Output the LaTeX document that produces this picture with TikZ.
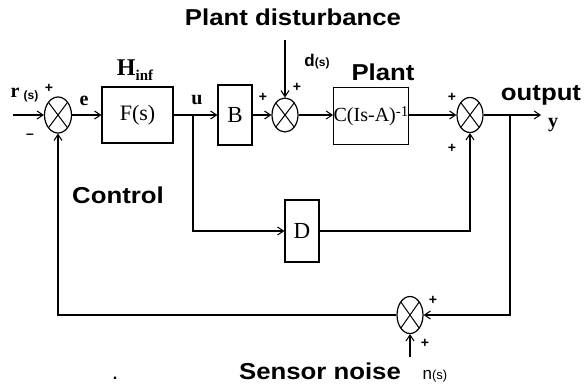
\documentclass[tikz,border=0pt]{standalone}
\usepackage{fontspec}
\setmainfont{Liberation Serif}
\setsansfont{Liberation Sans}
\newfontfamily\lblfont[FakeStretch=1.12]{Liberation Sans}
\usetikzlibrary{shapes.geometric,arrows.meta}
\begin{document}
\begin{tikzpicture}[x=1pt,y=-1pt,
  line width=1.2pt,
  arr/.style={-{Straight Barb[length=6pt,width=8pt,line width=1pt]}},
  sumj/.style={ellipse,draw,inner sep=0pt,minimum width=27pt,minimum height=36pt,
     path picture={\draw[line width=1pt] (path picture bounding box.north west)--(path picture bounding box.south east) (path picture bounding box.north east)--(path picture bounding box.south west);}},
  blk/.style={draw,rectangle,inner sep=0pt,font=\fontsize{23}{23}\selectfont},
  lab/.style={font=\lblfont\bfseries\fontsize{23}{23}\selectfont,inner sep=0pt},
  sgn/.style={font=\sffamily\bfseries\fontsize{14}{14}\selectfont,inner sep=0pt},
  sym/.style={font=\bfseries\fontsize{20}{20}\selectfont,inner sep=0pt}
]
\useasboundingbox[fill=white] (0,0) rectangle (585,383);
% summing junctions
\node[sumj] (S1) at (58,115) {};
\node[sumj,minimum width=26pt,minimum height=34pt] (S2) at (285,115) {};
\node[sumj,minimum width=26pt,minimum height=35pt] (S3) at (470,115) {};
\node[sumj,minimum width=26pt,minimum height=37pt] (S4) at (410,315) {};
% blocks
\node[blk,minimum width=71pt,minimum height=56pt,font=\fontsize{22}{22}\selectfont] (F) at (137.5,115) {F(s)};
\node[blk,minimum width=34pt,minimum height=60pt] (B) at (235,115) {B};
\node[blk,minimum width=72pt,minimum height=57pt,font=\fontsize{20}{20}\selectfont] (P) at (371,116) {C(Is-A)\raisebox{5pt}{\fontsize{15}{15}\selectfont -1}};
\node[blk,minimum width=34pt,minimum height=62pt] (D) at (302,231) {D};
% coordinates
\coordinate (rin) at (13,115);
\coordinate (br1) at (193,115);
\coordinate (br2) at (510,115);
\coordinate (yend) at (541,115);
\coordinate (dtop) at (285,40);
\coordinate (nbot) at (410,357);
% connectors
\draw[arr] (rin) -- (S1.west);
\draw[arr] (S1.east) -- (F.west);
\draw[arr] (F.east) -- (B.west);
\draw[arr] (B.east) -- (S2.west);
\draw[arr] (dtop) -- (S2.north);
\draw[arr] (S2.east) -- (P.west |- S2.east);
\draw[arr] (P.east |- S3.west) -- (S3.west);
\draw[arr] (S3.east) -- (yend);
\draw[arr] (br1) |- (D.west);
\draw[arr] (D.east) -| (S3.south);
\draw[arr] (br2) |- (S4.east);
\draw[arr] (S4.west) -| (S1.south);
\draw[arr] (nbot) -- (S4.south);
% labels
\node[sym,anchor=base] (rl) at (15,97) {r};
\node[font=\sffamily\bfseries\fontsize{12}{12}\selectfont,inner sep=0pt,anchor=base] (rs) at (31,99) {(s)};
\node[sgn] (p1) at (49,88) {+};
\node[sgn] (m1) at (30,136) {\textendash};
\node[sym,anchor=base] (el) at (84,105) {e};
\node[inner sep=0pt,anchor=base] (H) at (135,75) {\fontsize{24}{24}\selectfont\bfseries H\raisebox{-5pt}{\fontsize{15}{15}\selectfont inf}};
\node[sym,anchor=base] (ul) at (197,104) {u};
\node[sgn] (p2) at (263,97) {+};
\node[sgn] (p3) at (297,87) {+};
\node[inner sep=0pt,anchor=base] (dl) at (317,66) {\sffamily\bfseries\fontsize{17}{17}\selectfont d\fontsize{12}{12}\selectfont(s)};
\node[lab] (pd) at (293,17) {Plant disturbance};
\node[lab] (pl) at (383,72) {Plant};
\node[sgn] (p4) at (452,97) {+};
\node[sgn] (p5) at (452,148) {+};
\node[lab] (out) at (541,95) {output};
\node[sym,anchor=base] (yl) at (553,127) {y};
\node[lab] (ctl) at (118,195) {Control};
\node[sgn] (p6) at (433,300) {+};
\node[sgn] (p7) at (425,343) {+};
\node[lab,anchor=base] (sn) at (320,379) {Sensor noise};
\node[inner sep=0pt,anchor=base] (nl) at (435,379) {\sffamily\fontsize{17}{17}\selectfont n\fontsize{13}{13}\selectfont(s)};
\node[inner sep=0pt,anchor=base] (dot) at (115,379) {\sffamily\bfseries\fontsize{16}{16}\selectfont .};
\end{tikzpicture}
\end{document}
